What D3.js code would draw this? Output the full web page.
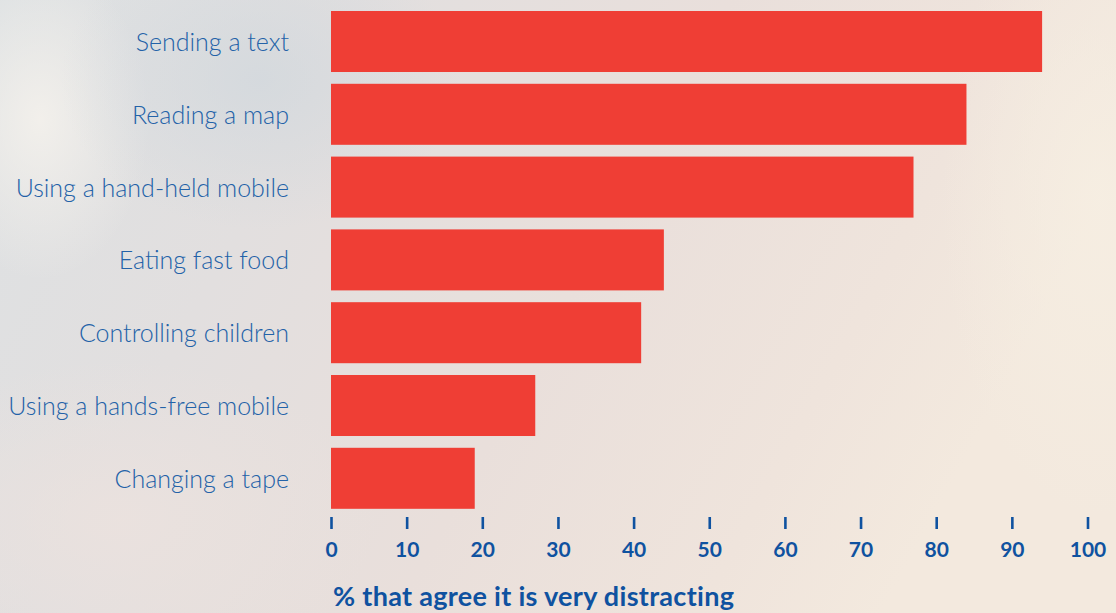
<!DOCTYPE html>
<html>
<head>
<meta charset="utf-8">
<script src="https://cdn.jsdelivr.net/npm/d3@7"></script>
<style>
  html, body { margin: 0; padding: 0; }
  body { width: 1116px; height: 613px; overflow: hidden; }
  svg { display: block; }
</style>
</head>
<body>
<svg id="chart" width="1116" height="613"></svg>
<script>
const categories = ["Sending a text", "Reading a map", "Using a hand-held mobile", "Eating fast food", "Controlling children", "Using a hands-free mobile", "Changing a tape"];
const values = [94, 84, 77, 44, 41, 27, 19];
const tickValues = [0, 10, 20, 30, 40, 50, 60, 70, 80, 90, 100];
const axisTitle = "% that agree it is very distracting";

const W = 1116, H = 613;
const svg = d3.select("#chart");
const defs = svg.append("defs");

// Background
const bg = defs.append("linearGradient").attr("id", "bg").attr("x1", 0).attr("y1", 0).attr("x2", 1).attr("y2", 0.3);
bg.append("stop").attr("offset", "0%").attr("stop-color", "#dde1e3");
bg.append("stop").attr("offset", "30%").attr("stop-color", "#e2dfdf");
bg.append("stop").attr("offset", "60%").attr("stop-color", "#e9dfdb");
bg.append("stop").attr("offset", "85%").attr("stop-color", "#efe4dc");
bg.append("stop").attr("offset", "100%").attr("stop-color", "#f3e9de");
svg.append("rect").attr("width", W).attr("height", H).attr("fill", "url(#bg)");

const g1 = defs.append("radialGradient").attr("id", "glowTL");
g1.append("stop").attr("offset", "0%").attr("stop-color", "#f4f1ec").attr("stop-opacity", 0.9);
g1.append("stop").attr("offset", "100%").attr("stop-color", "#f4f1ec").attr("stop-opacity", 0);
svg.append("ellipse").attr("cx", 40).attr("cy", 120).attr("rx", 110).attr("ry", 160).attr("fill", "url(#glowTL)");

const g2 = defs.append("radialGradient").attr("id", "glowTR");
g2.append("stop").attr("offset", "0%").attr("stop-color", "#f6eee2").attr("stop-opacity", 0.9);
g2.append("stop").attr("offset", "100%").attr("stop-color", "#f6eee2").attr("stop-opacity", 0);
svg.append("ellipse").attr("cx", 1100).attr("cy", 200).attr("rx", 160).attr("ry", 320).attr("fill", "url(#glowTR)");

const g3 = defs.append("radialGradient").attr("id", "glowBL");
g3.append("stop").attr("offset", "0%").attr("stop-color", "#ece2de").attr("stop-opacity", 0.8);
g3.append("stop").attr("offset", "100%").attr("stop-color", "#ece2de").attr("stop-opacity", 0);
svg.append("ellipse").attr("cx", 120).attr("cy", 520).attr("rx", 260).attr("ry", 160).attr("fill", "url(#glowBL)");

const g4 = defs.append("radialGradient").attr("id", "blueTL");
g4.append("stop").attr("offset", "0%").attr("stop-color", "#d2d8dd").attr("stop-opacity", 0.8);
g4.append("stop").attr("offset", "100%").attr("stop-color", "#d2d8dd").attr("stop-opacity", 0);
svg.append("ellipse").attr("cx", 260).attr("cy", 80).attr("rx", 200).attr("ry", 150).attr("fill", "url(#blueTL)");

// Scales
const x = d3.scaleLinear().domain([0, 100]).range([331, 1087.5]);
const y = d3.scaleBand().domain(categories).range([5.1, 514.7]).paddingInner(0.162).paddingOuter(0.081);

// Bars
svg.append("g").selectAll("rect").data(categories).join("rect")
  .attr("x", x(0))
  .attr("y", d => y(d))
  .attr("width", (d, i) => x(values[i]) - x(0))
  .attr("height", y.bandwidth())
  .attr("fill", "#ef3e35");

// Category labels
svg.append("g").selectAll("text").data(categories).join("text")
  .attr("x", 289)
  .attr("y", d => y(d) + y.bandwidth() / 2)
  .attr("dy", "0.38em")
  .attr("text-anchor", "end")
  .attr("font-family", "Lato, 'Open Sans', sans-serif")
  .attr("font-weight", 300)
  .attr("font-size", 25)
  .attr("fill", "#2362a8")
  .text(d => d);

// Axis
const axis = d3.axisBottom(x).tickValues(tickValues).tickSize(12).tickFormat(d3.format("d"));
const ag = svg.append("g").attr("transform", "translate(0,517)").call(axis);
ag.select(".domain").remove();
ag.selectAll(".tick line").attr("stroke", "#0f52a0").attr("stroke-width", 2.6);
ag.selectAll(".tick text")
  .attr("y", 40).attr("dy", 0)
  .attr("fill", "#0f52a0")
  .attr("font-family", "Lato, 'Open Sans', sans-serif")
  .attr("font-weight", 700)
  .attr("font-size", 21);

// Axis title
svg.append("text")
  .attr("x", 333)
  .attr("y", 606)
  .attr("font-family", "Lato, 'Open Sans', sans-serif")
  .attr("font-weight", 700)
  .attr("font-size", 27)
  .attr("letter-spacing", 0.3)
  .attr("fill", "#0f52a0")
  .text(axisTitle);
</script>
</body>
</html>
